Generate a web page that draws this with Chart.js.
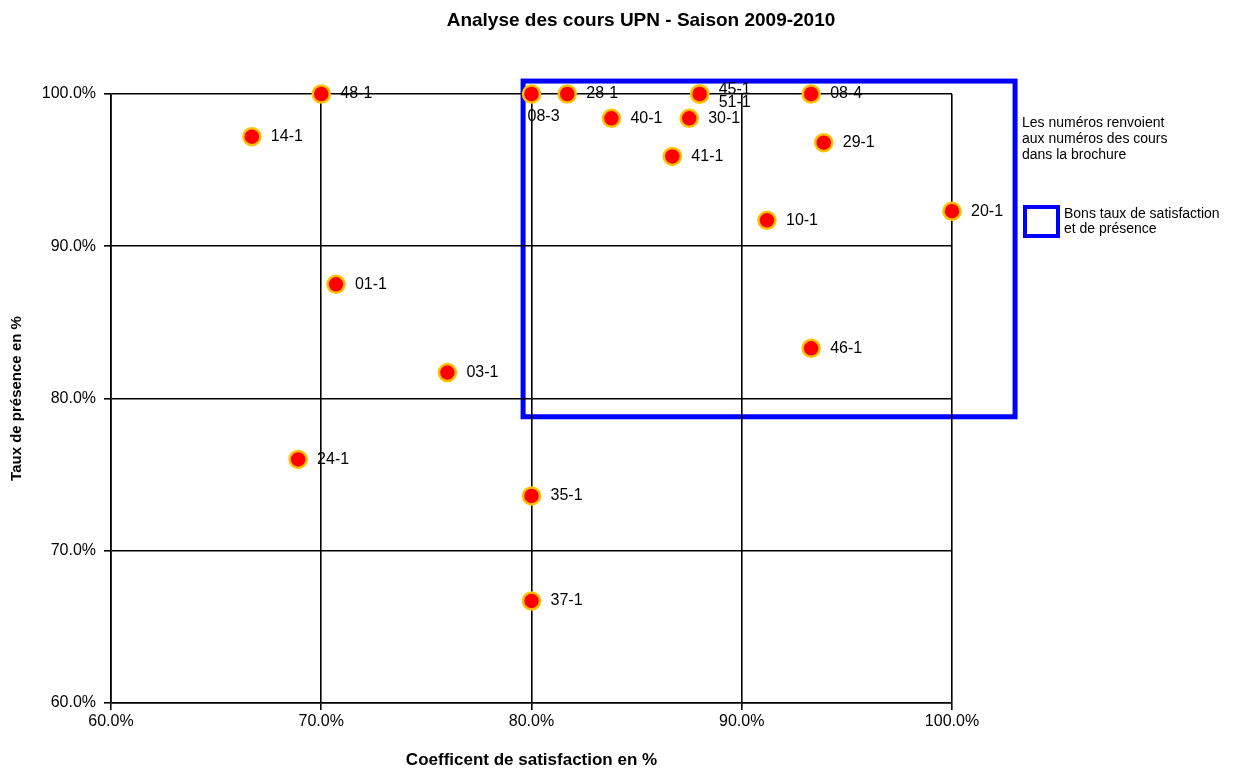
<!DOCTYPE html>
<html>
<head>
<meta charset="utf-8">
<script src="https://cdn.jsdelivr.net/npm/chart.js@4.4.1/dist/chart.umd.min.js"></script>
<style>
  html, body { margin: 0; padding: 0; background: #ffffff; }
  #wrap { width: 1241px; height: 769px; position: relative; }
</style>
</head>
<body>
<div id="wrap"><canvas id="c" width="1241" height="769"></canvas></div>
<script>
// ---- Data ----
const categories   = ['48-1','14-1','08-3','28-1','45-1','51-1','08-4','40-1','30-1','29-1','41-1','10-1','20-1','01-1','46-1','03-1','24-1','35-1','37-1'];
const satisfaction = [70.0, 66.7, 80.0, 81.7, 88.0, 88.0, 93.3, 83.8, 87.5, 93.9, 86.7, 91.2, 100.0, 70.7, 93.3, 76.0, 68.9, 80.0, 80.0];
const presence     = [100.0, 97.2, 100.0, 100.0, 100.0, 100.0, 100.0, 98.4, 98.4, 96.8, 95.9, 91.7, 92.3, 87.5, 83.3, 81.7, 76.0, 73.6, 66.7];
const xTickValues  = [60, 70, 80, 90, 100];
const yTickValues  = [60, 70, 80, 90, 100];
const goodZoneX    = [79.6, 103.0];
const goodZoneY    = [78.8, 100.85];
const titleText    = 'Analyse des cours UPN - Saison 2009-2010';
const xTitleText   = 'Coefficent de satisfaction en %';
const yTitleText   = 'Taux de présence en %';
const noteLines    = ['Les numéros renvoient', 'aux numéros des cours', 'dans la brochure'];
const zoneLegend   = ['Bons taux de satisfaction', 'et de présence'];

const FONT = "'Liberation Sans', Arial, sans-serif";
// label offsets (style)
const labelOffsets = { '08-3': [-4, 23], '45-1': [19, -4], '51-1': [19, 9] };

const points = satisfaction.map((x, i) => ({ x: x, y: presence[i] }));

const decorPlugin = {
  id: 'decor',
  beforeDraw(chart) {
    const ctx = chart.ctx;
    ctx.save();
    ctx.fillStyle = '#ffffff';
    ctx.fillRect(0, 0, chart.width, chart.height);
    const xs = chart.scales.x, ys = chart.scales.y;
    const x1 = xs.getPixelForValue(goodZoneX[0]);
    const x2 = xs.getPixelForValue(goodZoneX[1]);
    const y1 = ys.getPixelForValue(goodZoneY[1]);
    const y2 = ys.getPixelForValue(goodZoneY[0]);
    ctx.strokeStyle = '#0000ff';
    ctx.lineWidth = 5;
    ctx.strokeRect(x1, y1, x2 - x1, y2 - y1);
    ctx.restore();
  },
  afterDatasetsDraw(chart) {
    const ctx = chart.ctx;
    const meta = chart.getDatasetMeta(0);
    ctx.save();
    ctx.fillStyle = '#000000';
    ctx.font = '16px ' + FONT;
    ctx.textAlign = 'left';
    ctx.textBaseline = 'middle';
    meta.data.forEach((el, i) => {
      const off = labelOffsets[categories[i]] || [19, 0];
      ctx.fillText(categories[i], el.x + off[0], el.y + off[1]);
    });
    // title
    ctx.font = 'bold 19px ' + FONT;
    ctx.textAlign = 'center';
    ctx.fillText(titleText, 641, 21);
    // notes
    ctx.font = '14px ' + FONT;
    ctx.textAlign = 'left';
    noteLines.forEach((t, i) => ctx.fillText(t, 1022, 123 + i * 16));
    // zone legend
    ctx.strokeStyle = '#0000ff';
    ctx.lineWidth = 4;
    ctx.strokeRect(1025, 207, 33, 29);
    zoneLegend.forEach((t, i) => ctx.fillText(t, 1064, 214 + i * 15));
    ctx.restore();
  }
};

new Chart(document.getElementById('c'), {
  type: 'scatter',
  data: {
    datasets: [{
      label: 'Cours',
      data: points,
      backgroundColor: '#ff0000',
      borderColor: '#ffc000',
      borderWidth: 2.5,
      pointRadius: 8.5,
      pointHoverRadius: 8.5,
      clip: false
    }]
  },
  options: {
    responsive: false,
    animation: false,
    devicePixelRatio: 1,
    layout: { padding: { top: 94, right: 289, bottom: 0, left: 0 } },
    plugins: {
      legend: { display: false },
      title: { display: false },
      tooltip: { enabled: false }
    },
    scales: {
      x: {
        type: 'linear',
        min: 60, max: 100,
        afterBuildTicks: s => { s.ticks = xTickValues.map(v => ({ value: v })); },
        afterFit: s => { s.height = 66; },
        ticks: {
          color: '#000000',
          font: { family: FONT, size: 16 },
          padding: 2,
          maxRotation: 0,
          callback: v => v.toFixed(1) + '%'
        },
        grid: { color: '#000000', lineWidth: 1.6, tickLength: 7 },
        border: { display: true, color: '#000000', width: 1.6 },
        title: {
          display: true,
          text: xTitleText,
          color: '#000000',
          font: { family: FONT, size: 17, weight: 'bold', lineHeight: 1.0 },
          padding: { top: 0, bottom: 0 }
        }
      },
      y: {
        type: 'linear',
        min: 60, max: 100,
        afterBuildTicks: s => { s.ticks = yTickValues.map(v => ({ value: v })); },
        afterFit: s => { s.width = 111; },
        ticks: {
          color: '#000000',
          font: { family: FONT, size: 16 },
          padding: 8,
          callback: v => v.toFixed(1) + '%'
        },
        grid: { color: '#000000', lineWidth: 1.6, tickLength: 7 },
        border: { display: true, color: '#000000', width: 1.6 },
        title: {
          display: true,
          text: yTitleText,
          color: '#000000',
          font: { family: FONT, size: 15, weight: 'bold', lineHeight: 1.2 },
          padding: { top: 8, bottom: 0 }
        }
      }
    }
  },
  plugins: [decorPlugin]
});
</script>
</body>
</html>
